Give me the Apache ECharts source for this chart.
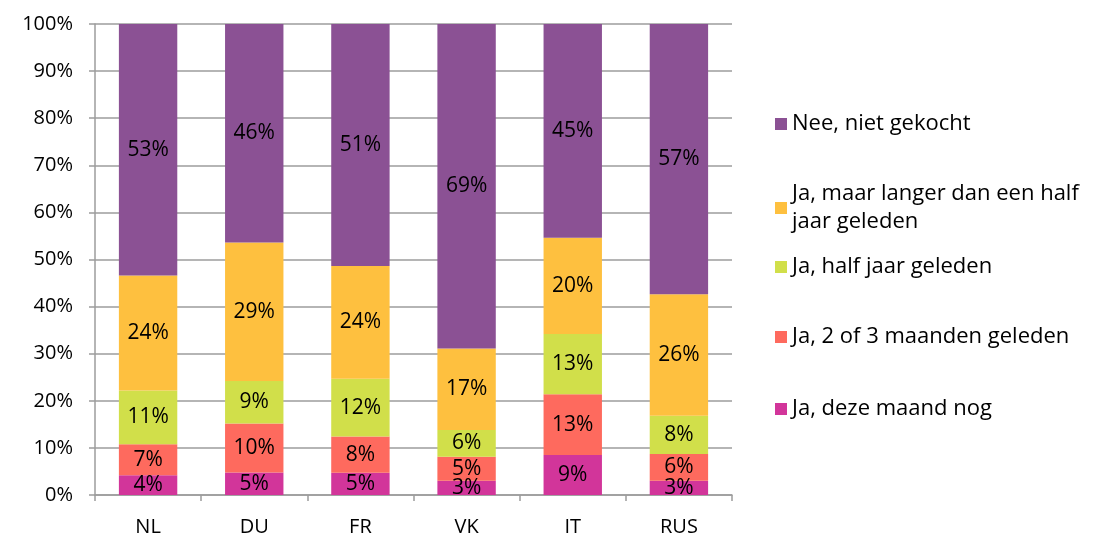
<!DOCTYPE html>
<html>
<head>
<meta charset="utf-8">
<style>
  html, body { margin: 0; padding: 0; background: #fff; }
  #chart { width: 1105px; height: 540px; }
</style>
<script src="https://cdn.jsdelivr.net/npm/echarts@6/dist/echarts.min.js"></script>
</head>
<body>
<div id="chart"></div>
<script>
// landen en antwoordcategorieën
const countries = ['NL', 'DU', 'FR', 'VK', 'IT', 'RUS']
const yTicks = [0, 10, 20, 30, 40, 50, 60, 70, 80, 90, 100]

// aandelen per land (%), van onder naar boven gestapeld
const dezeMaand = [4.2, 4.8, 4.7, 3.0, 8.5, 3.0]
const tweeDrieMaanden = [6.6, 10.4, 7.7, 5.1, 12.9, 5.7]
const halfJaar = [11.4, 9.0, 12.3, 5.7, 12.8, 8.1]
const langerDanHalfJaar = [24.4, 29.4, 23.9, 17.3, 20.4, 25.8]
const nietGekocht = [53.4, 46.4, 51.4, 68.9, 45.4, 57.4]

const names = [
  'Ja, deze maand nog',
  'Ja, 2 of 3 maanden geleden',
  'Ja, half jaar geleden',
  'Ja, maar langer dan een half\njaar geleden',
  'Nee, niet gekocht',
]
const values = [dezeMaand, tweeDrieMaanden, halfJaar, langerDanHalfJaar, nietGekocht]
const colors = ['#D2359A', '#FE6A5E', '#D1DF4A', '#FEC03F', '#8B5194']

const font = '"Open Sans", Lato, sans-serif'
const grey = '#9C9C9C'

// legenda: van boven naar beneden, elk op eigen hoogte
const legendTops = [105, 161, 248, 318, 390]
const legendOrder = [4, 3, 2, 1, 0]
const legends = legendOrder.map((si, i) => ({
  left: 770,
  top: legendTops[i],
  orient: 'vertical',
  itemWidth: 12,
  itemHeight: 12,
  itemGap: 0,
  selectedMode: false,
  icon: 'rect',
  textStyle: { fontFamily: font, fontSize: 22, color: '#000', lineHeight: 28 },
  data: [si === 3
    ? { name: names[si], textStyle: { padding: [28, 0, 0, 0] } }
    : { name: names[si] }],
}))

const chart = echarts.init(document.getElementById('chart'))

chart.setOption({
  animation: false,
  textStyle: { fontFamily: font },
  grid: { left: 95, right: 373, top: 24, bottom: 45 },
  legend: legends,
  xAxis: {
    type: 'category',
    data: countries,
    axisLine: { lineStyle: { color: grey, width: 1.5 } },
    axisTick: { show: true, length: 6, lineStyle: { color: grey, width: 1.5 } },
    axisLabel: { color: '#000', fontSize: 20, margin: 22, fontFamily: font },
  },
  yAxis: {
    type: 'value',
    min: yTicks[0],
    max: yTicks[yTicks.length - 1],
    interval: 10,
    axisLine: { show: true, lineStyle: { color: grey, width: 1.5 } },
    axisTick: { show: true, length: 6, lineStyle: { color: grey, width: 1.5 } },
    splitLine: { lineStyle: { color: grey, width: 1.5 } },
    axisLabel: { color: '#000', fontSize: 20, margin: 22, fontFamily: font, formatter: '{value}%' },
  },
  series: names.map((name, i) => ({
    name,
    type: 'bar',
    stack: 'totaal',
    barWidth: '55%',
    data: values[i],
    itemStyle: { color: colors[i] },
    label: {
      show: true,
      position: 'inside',
      color: '#000',
      fontSize: 21,
      fontFamily: font,
      formatter: (p) => Math.round(p.value) + '%',
    },
  })),
})
</script>
</body>
</html>
